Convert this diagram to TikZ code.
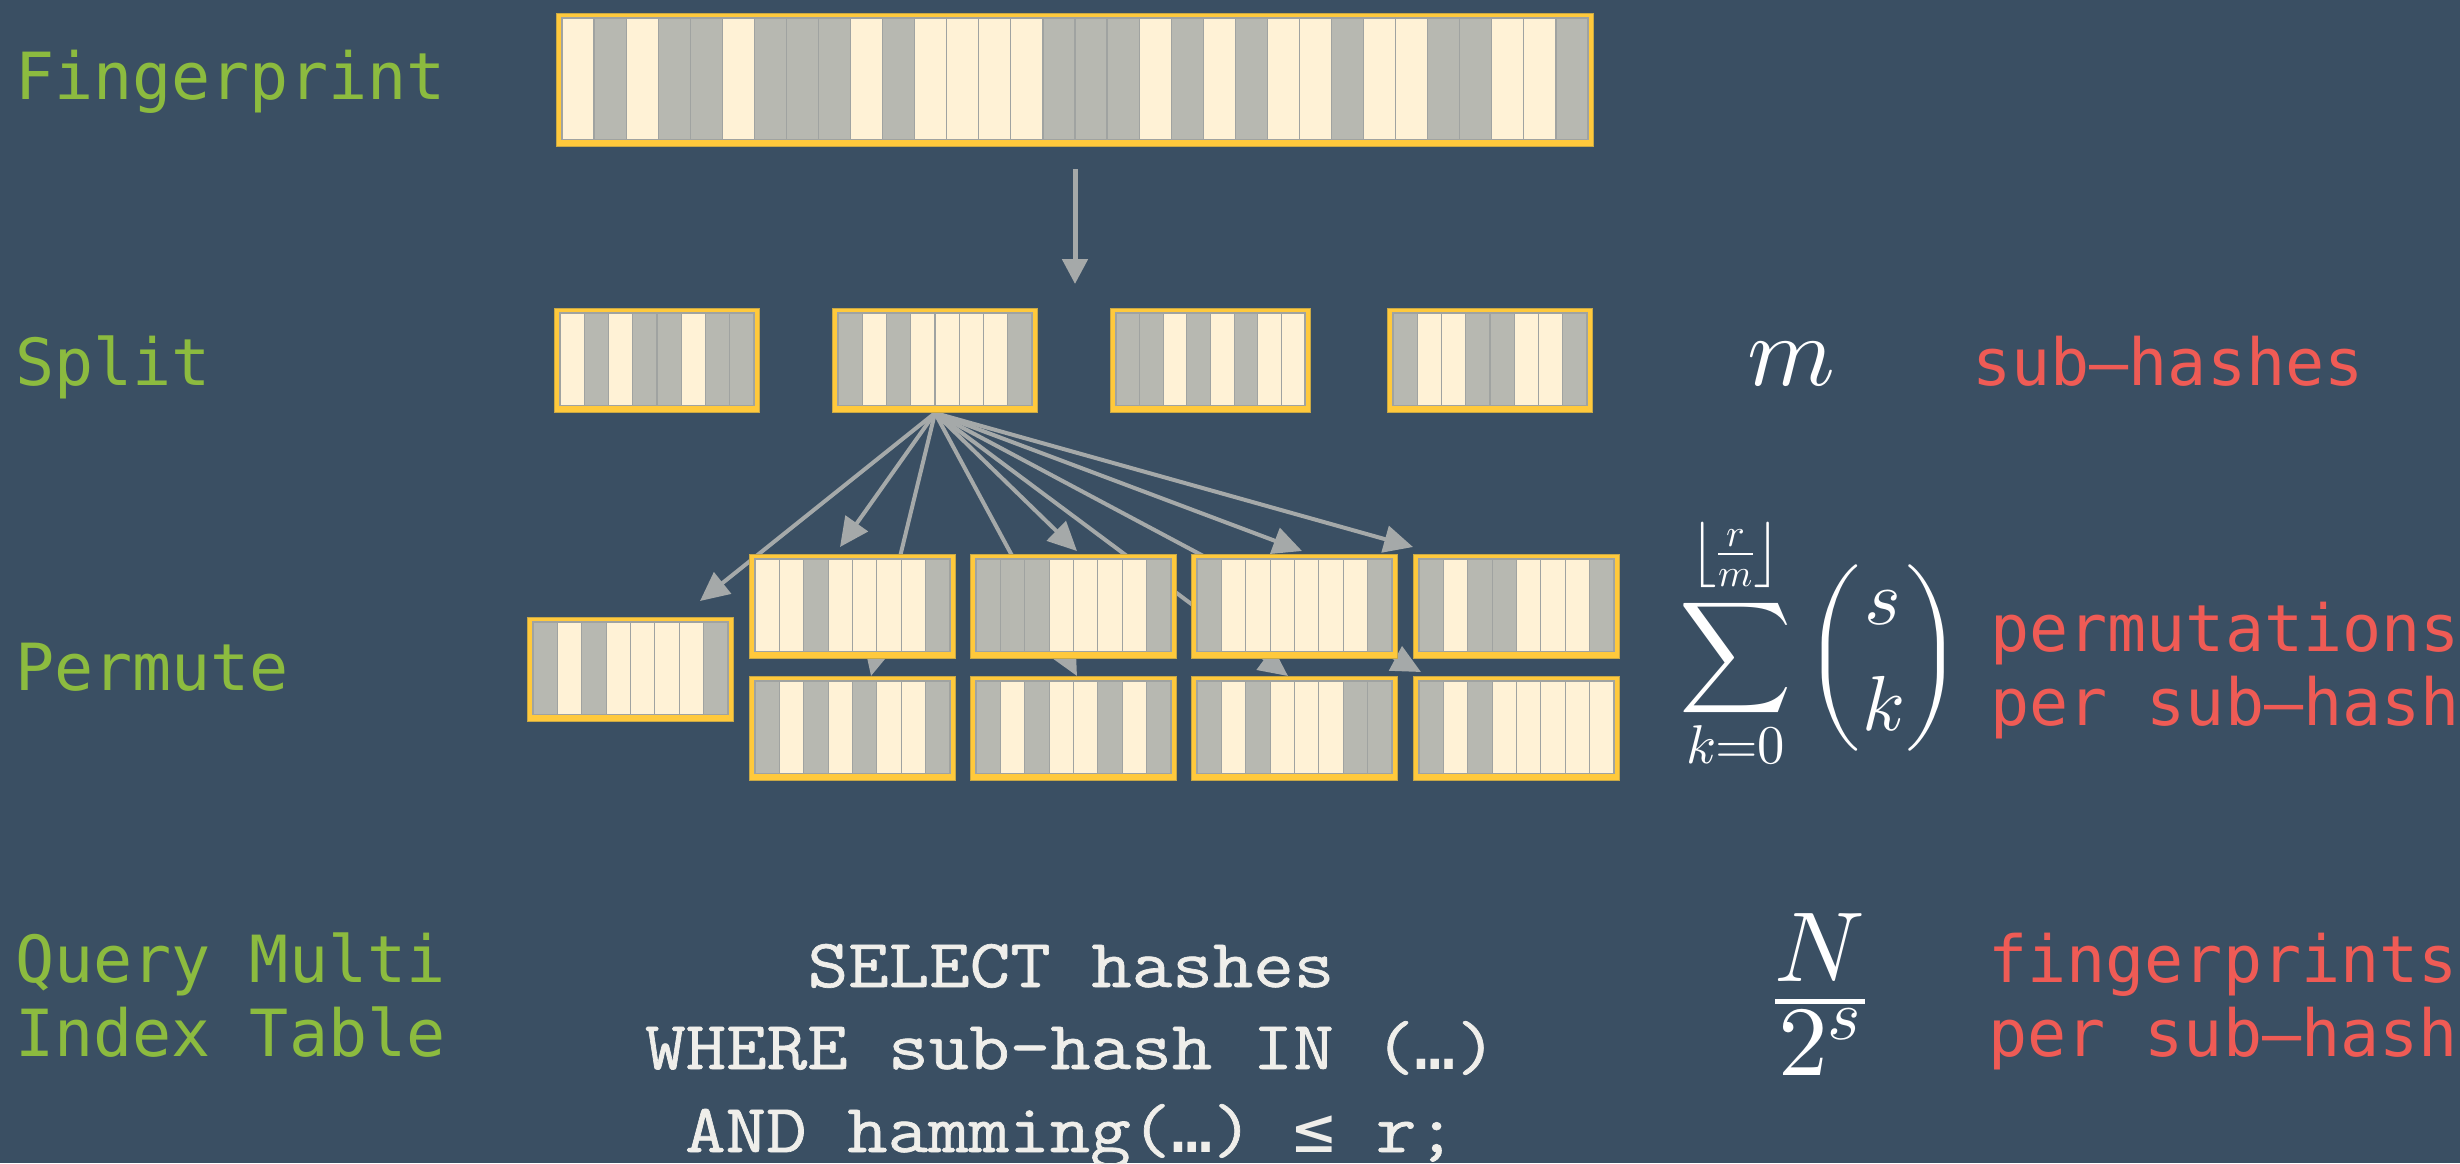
\documentclass[tikz,border=0pt]{standalone}
\usepackage{amsmath}
\usepackage{fontspec}
\usepackage{unicode-math}
\setmathfont{Latin Modern Math}
\usetikzlibrary{arrows.meta,calc}
\newfontfamily\monoA{DejaVu Sans Mono}
\newfontfamily\monoB{Latin Modern Mono}[FakeStretch=1.14,FakeBold=1]
\definecolor{bgc}{HTML}{3A4F63}
\definecolor{yellowc}{HTML}{FFC93C}
\definecolor{yellowedge}{HTML}{C9A845}
\definecolor{creamc}{HTML}{FFF2D6}
\definecolor{grayc}{HTML}{B7B8B1}
\definecolor{cellline}{HTML}{A0A3A1}
\definecolor{arrowc}{HTML}{A5A9A9}
\definecolor{greenc}{HTML}{8CBB3F}
\definecolor{redc}{HTML}{EF5B55}
\definecolor{sqlc}{HTML}{EFEEEA}
\pgfdeclarelayer{bglayer}
\pgfdeclarelayer{arrowlayer}
\pgfsetlayers{bglayer,arrowlayer,main}
\tikzset{
  ybox/.style={draw=yellowedge, line width=1pt, fill=yellowc, inner sep=0pt},
  lbl/.style={anchor=base west, inner sep=0pt, text=greenc, font=\monoA\fontsize{65}{78}\selectfont},
  note/.style={anchor=base west, inner sep=0pt, text=redc, font=\monoA\fontsize{65}{78}\selectfont},
  sql/.style={anchor=base, inner sep=0pt, text=sqlc, font=\monoB\fontsize{69}{82}\selectfont},
  mth/.style={inner sep=0pt, text=white},
  fanarrow/.style={draw=arrowc, line width=4pt, -{Triangle[length=29pt,width=27pt]}},
  downarrow/.style={draw=arrowc, line width=5pt, -{Triangle[length=25pt,width=25pt]}}
}
\newcommand\dvs[1]{{\monoA\fontsize{69}{82}\selectfont #1}}
% #1 name, #2 x, #3 y, #4 width, #5 height, #6 number of cells, #7 bits
\newcommand\bitbox[7]{%
  \node[ybox, minimum width=#4pt, minimum height=#5pt, anchor=north west] (#1) at (#2,#3) {};
  \pgfmathsetmacro\bbw{(#4-11)/#6}%
  \foreach \bb [count=\bi from 0] in {#7}{%
    \ifnum\bb=1 \def\bbc{creamc}\else\def\bbc{grayc}\fi
    \filldraw[fill=\bbc, draw=cellline, line width=1.2pt]
      ({#2+6+\bi*\bbw},{#3+5}) rectangle ({#2+6+(\bi+1)*\bbw},{#3+#5-6.5});
  }%
}
\begin{document}
\begin{tikzpicture}[x=1pt,y=-1pt]
\useasboundingbox (0,0) rectangle (2460,1163);
\begin{pgfonlayer}{bglayer}
\fill[bgc] (0,0) rectangle (2460,1163);
\end{pgfonlayer}

% labels
\node[lbl] (lfp) at (15,99) {Fingerprint};
\node[lbl] (lsp) at (15,385) {Split};
\node[lbl] (lpe) at (15,690) {Permute};
\node[lbl] (lq1) at (15,982) {Query Multi};
\node[lbl] (lq2) at (15,1056) {Index Table};

% fingerprint
\bitbox{fp}{556}{13}{1037}{133}{32}{1,0,1,0,0,1,0,0,0,1,0,1,1,1,1,0,0,0,1,0,1,0,1,1,0,1,1,0,0,1,1,0}
\coordinate (d0) at ($(fp.south)+(0,22)$);
\coordinate (d1) at ($(fp.south)+(0,137)$);
\draw[downarrow] (d0) -- (d1);

% split
\bitbox{sb1}{554}{308}{205}{104}{8}{1,0,1,0,0,1,0,0}
\bitbox{sb2}{832}{308}{205}{104}{8}{0,1,0,1,1,1,1,0}
\bitbox{sb3}{1110}{308}{200}{104}{8}{0,0,1,0,1,0,1,1}
\bitbox{sb4}{1387}{308}{205}{104}{8}{0,1,1,0,0,1,1,0}

% permute
\bitbox{ps}{527}{617}{206}{104}{8}{0,1,0,1,1,1,1,0}
\bitbox{pt1}{749}{554}{206}{104}{8}{1,1,0,1,1,1,1,0}
\bitbox{pt2}{970}{554}{206}{104}{8}{0,0,0,1,1,1,1,0}
\bitbox{pt3}{1191}{554}{206}{104}{8}{0,1,1,1,1,1,1,0}
\bitbox{pt4}{1413}{554}{206}{104}{8}{0,1,0,0,1,1,1,0}
\bitbox{pb1}{749}{676}{206}{104}{8}{0,1,0,1,0,1,1,0}
\bitbox{pb2}{970}{676}{206}{104}{8}{0,1,0,1,1,0,1,0}
\bitbox{pb3}{1191}{676}{206}{104}{8}{0,1,0,1,1,1,0,0}
\bitbox{pb4}{1413}{676}{206}{104}{8}{0,1,0,1,1,1,1,1}

\begin{pgfonlayer}{arrowlayer}
\draw[fanarrow] (sb2.south) -- ($(ps.north west)+(173,-16)$);
\draw[fanarrow] (sb2.south) -- ($(pt1.north west)+(91,-7)$);
\draw[fanarrow] (sb2.south) -- ($(pb1.north west)+(122,0)$);
\draw[fanarrow] (sb2.south) -- ($(pb2.north west)+(107,0)$);
\draw[fanarrow] (sb2.south) -- ($(pt2.north west)+(107,-3)$);
\draw[fanarrow] (sb2.south) -- ($(pb3.north west)+(97,0)$);
\draw[fanarrow] (sb2.south) -- ($(pt3.north west)+(111,-3)$);
\draw[fanarrow] (sb2.south) -- ($(pb4.north west)+(8,-4)$);
\draw[fanarrow] (sb2.south) -- ($(pt4.north west)+(0,-7)$);
\end{pgfonlayer}

% math
\node[mth, font=\fontsize{100}{120}\selectfont, anchor=base] (mm) at (1791,385) {$m$};
\node[mth, font=\fontsize{78}{94}\selectfont, anchor=base west] (sumf) at (1679,677)
  {$\displaystyle\sum_{k=0}^{\left\lfloor\frac{r}{m}\right\rfloor}\binom{s}{k}$};
\node[mth, font=\fontsize{142}{170}\selectfont, anchor=base] (frac) at (1820,1037)
  {$\frac{N}{\raisebox{12pt}{$\scriptstyle 2^{s}$}}$};

% notes
\node[note] (rsub) at (1972,385) {sub–hashes};
\node[note] (rp1) at (1990,651) {permutations};
\node[note] (rp2) at (1990,725) {per sub–hash};
\node[note] (rf1) at (1988,982) {fingerprints};
\node[note] (rf2) at (1988,1056) {per sub–hash};

% query
\node[sql] (q1) at (1071,987) {SELECT hashes};
\node[sql] (q2) at (1071,1069) {WHERE sub-hash IN (\dvs{…})};
\node[sql] (q3) at (1071,1152) {AND hamming(\dvs{…}) \dvs{≤} r;};
\end{tikzpicture}
\end{document}
